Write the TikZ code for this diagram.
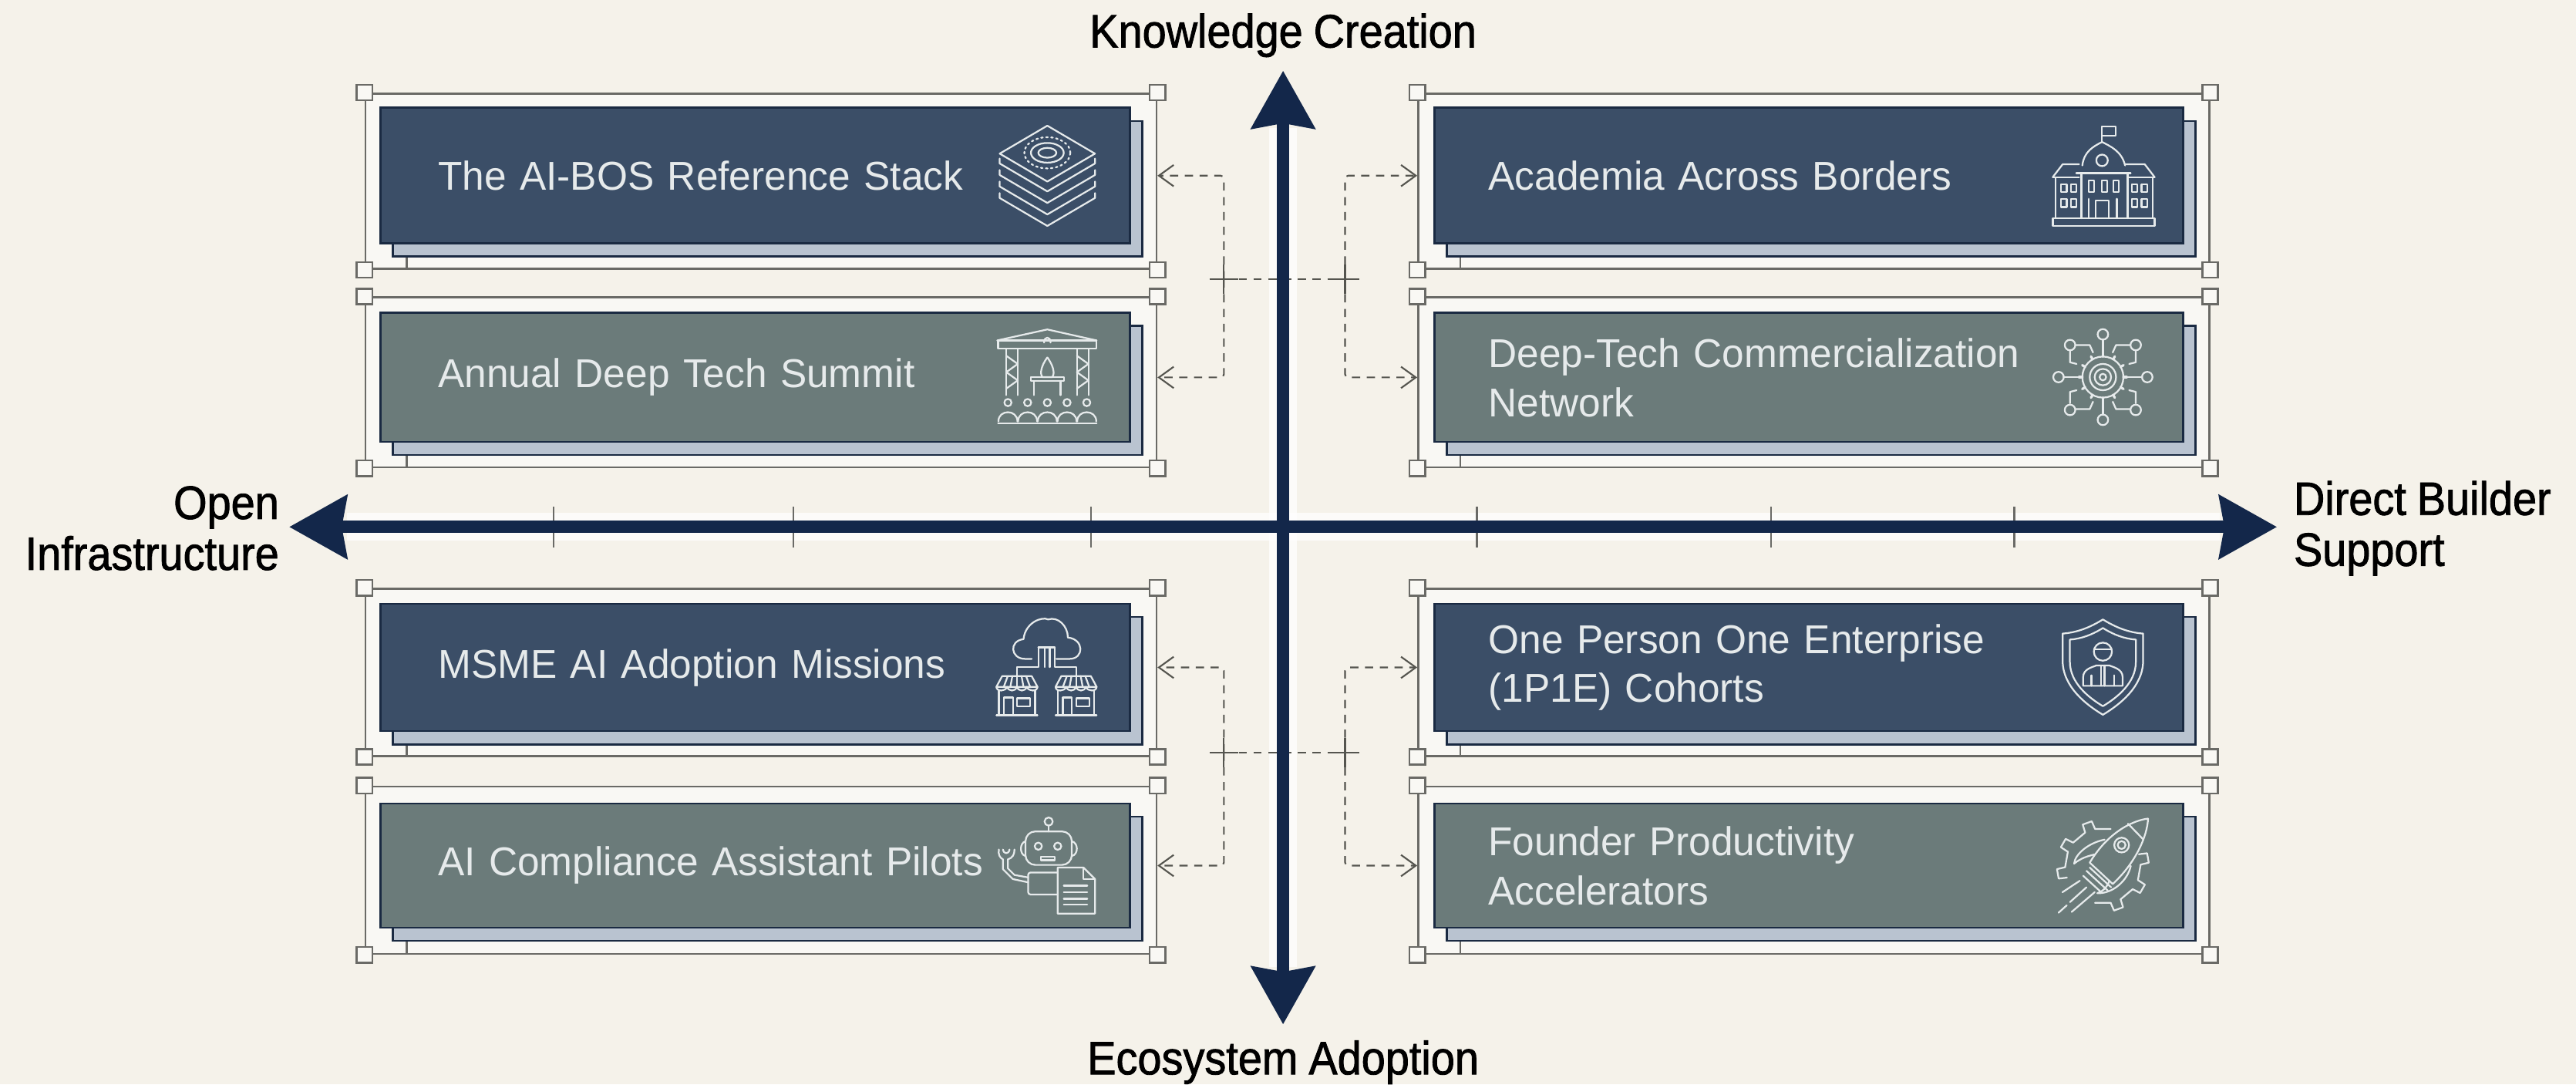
\documentclass[tikz,border=0pt]{standalone}
\usepackage{fontspec}
\setmainfont[WordSpace=0.7,FakeStretch=0.985]{Liberation Sans}
\newfontfamily\axisfont[FakeStretch=0.92,FakeBold=1.4,WordSpace=0.9]{Liberation Sans}
\usetikzlibrary{arrows.meta,shadows,shapes.misc}
\definecolor{paper}{HTML}{F5F2EA}
\definecolor{framefill}{HTML}{F9F8F4}
\definecolor{frameline}{HTML}{6A6A66}
\definecolor{navycard}{HTML}{3B4E67}
\definecolor{sagecard}{HTML}{6B7B7A}
\definecolor{cardline}{HTML}{1A2A42}
\definecolor{cardback}{HTML}{B9C3D0}
\definecolor{axisblue}{HTML}{13274A}
\definecolor{linkgray}{HTML}{55554F}
\definecolor{iconwhite}{HTML}{E6EAEB}
\begin{document}
\begin{tikzpicture}[x=1pt,y=-1pt]
 \tikzset{frame/.style={draw=frameline, fill=framefill, line width=1.2pt, inner sep=0pt, minimum width=481.5pt}}
 \tikzset{handle/.style={draw=frameline, fill=framefill, line width=1.2pt, inner sep=0pt, minimum size=9.5pt}}
 \tikzset{card/.style={draw=cardline, line width=1.3pt, text=iconwhite, inner xsep=35pt, inner ysep=0pt, text width=386pt, align=left, font=\fontsize{24.5}{30}\selectfont, copy shadow={shadow xshift=7.5pt, shadow yshift=-8pt, fill=cardback, draw=cardline}}}
 \tikzset{navy/.style={card, fill=navycard}}
 \tikzset{sage/.style={card, fill=sagecard}}
 \tikzset{rightside/.style={inner xsep=33pt, text width=390pt}}
 \tikzset{axislabel/.style={text=black, inner sep=0pt, font=\axisfont\fontsize{28.5}{31}\selectfont}}
 \tikzset{axisline/.style={draw=axisblue, line width=7.4pt, {Stealth[length=35pt,width=38pt,inset=3pt]}-{Stealth[length=35pt,width=38pt,inset=3pt]}}}
 \tikzset{halo/.style={draw=white, opacity=.75, line width=17pt, shorten >=35pt, shorten <=35pt}}
 \tikzset{tickline/.style={draw=frameline, line width=1.2pt}}
 \tikzset{link/.style={draw=linkgray, line width=1pt, dash pattern=on 5pt off 4pt, rounded corners=2pt, -{Straight Barb[length=9pt,width=13pt]}}}
 \tikzset{bus/.style={draw=linkgray, line width=1pt, dash pattern=on 5pt off 4pt}}
 \tikzset{joint/.style={draw=linkgray, line width=1pt, cross out, rotate=45, inner sep=0pt, minimum size=11.5pt}}
 \tikzset{iconline/.style={color=iconwhite, line width=1.05pt, line join=round, line cap=round}}
 \tikzset{stackicon/.pic={
  \draw (0,-30.5) -- (29,-13.5) -- (0,3.5) -- (-29,-13.5) -- cycle;
  \foreach \k in {6,13,20,27} \draw (-29,-13.5+\k-3) -- (-29,-13.5+\k) -- (0,3.5+\k) -- (29,-13.5+\k) -- (29,-13.5+\k-3);
  \draw (0,-14) ellipse (10pt and 6pt);
  \draw (0,-14) ellipse (5.5pt and 3pt);
  \draw[dotted] (0,-14) ellipse (14pt and 9.5pt);
 }}
 \tikzset{academyicon/.pic={
  \draw (-1,-20.6) -- (-1,-30) -- (7.4,-30) -- (7.4,-24.3) -- (-1,-24.3);
  \draw (-13,-6.3) .. controls (-12,-15) and (-6,-18) .. (-1,-20.6) .. controls (4,-18) and (11,-15) .. (13,-6.3);
  \draw (-1,-9.4) circle (3.5pt);
  \draw (-16.7,-1.6) -- (16.4,-1.6);
  \draw (-13.6,-1) -- (-13.6,25.8) (14.6,-1) -- (14.6,25.8);
  \draw (-31,.8) -- (-25,-7) -- (-15,-7) (31,.8) -- (25,-7) -- (13,-7);
  \draw (-31,.8) -- (-15,.8) (31,.8) -- (15,.8);
  \draw (-29.4,.8) -- (-29.4,25.8) (29.7,.8) -- (29.7,25.8);
  \draw (-31,25.8) rectangle (31,30.5);
  \foreach \x in {-26,-20,17,23} \foreach \y in {5,14} \draw (\x,\y) rectangle (\x+3.5,\y+5);
  \foreach \x in {-9,-1,6} \draw (\x,3) rectangle (\x+3,10);
  \draw (-5,25.8) -- (-5,15) -- (3,15) -- (3,25.8);
  \draw (-9,14) -- (-9,25.8) (8,14) -- (8,25.8);
 }}
 \tikzset{networkicon/.pic={
  \draw (0,0) circle (8pt) (0,0) circle (5pt) (0,0) circle (2pt) (0,0) circle (12.5pt);
  \foreach \a in {0,30,...,330} \draw[line width=1.5pt] (\a:12.5) -- (\a:14.5);
  \foreach \x/\y in {0/-26,0/26,-27/0,27/0,-20/-19.5,20/-19.5,-20/20,20/20} \draw (\x,\y) circle (3.2pt);
  \draw (0,-23) -- (0,-14) (0,23) -- (0,14) (-24,0) -- (-14,0) (24,0) -- (14,0);
  \foreach \sx/\sy in {-1/-1,1/-1,-1/1,1/1} {
   \draw (\sx*16.5,\sy*19.5) -- (\sx*8,\sy*19.5) -- (\sx*6,\sy*15);
   \draw (\sx*20,\sy*16) -- (\sx*20,\sy*9) -- (\sx*16,\sy*8);
  }
 }}
 \tikzset{summiticon/.pic={
  \draw (-30.5,-22.3) -- (0,-29) -- (30,-22.3) -- cycle;
  \draw (-30,-22.3) rectangle (30,-17.3);
  \draw (-2,-21) .. controls (-2,-25) and (2,-25) .. (2,-21);
  \foreach \x in {-25,18} {
   \draw (\x,-17) -- (\x,11) (\x+7,-17) -- (\x+7,11);
   \draw (\x,-13) -- (\x+7,-8) -- (\x,-3) -- (\x+7,2) -- (\x,7);
  }
  \draw (-10,0) rectangle (10,2.5);
  \draw (-8,2.5) -- (-8,11) (8,2.5) -- (8,11);
  \draw (0,-12) .. controls (-5,-5) and (-4,-1) .. (-3,0) -- (3,0) .. controls (4,-1) and (5,-5) .. (0,-12);
  \foreach \x in {-24,-12,0,12,24} {
   \draw (\x,15.5) circle (2.2pt);
   \draw (\x-5.8,27) .. controls (\x-5.8,19.5) and (\x+5.8,19.5) .. (\x+5.8,27);
  }
  \draw (-30,28.3) -- (30,28.3);
 }}
 \tikzset{msmeicon/.pic={
  \draw (-9,-5) -- (-13,-5) .. controls (-22,-5) and (-23,-16) .. (-14,-17) .. controls (-13,-27) and (-3,-31) .. (1,-29) .. controls (7,-31) and (13,-25) .. (13,-18) .. controls (23,-17) and (23,-5) .. (14,-5) -- (6,-5);
  \draw (-5,-12) -- (-5,0) -- (-18,0) -- (-18,5);
  \draw (5,-12) -- (5,0) -- (18,0) -- (18,5);
  \draw (-5,-12) -- (5,-12);
  \draw (-1,-12) -- (-1,0) (2,-12) -- (2,0);
  \foreach \x in {-18,18} {
   \draw (\x-9,5.5) -- (\x+9,5.5) -- (\x+12.5,12) -- (\x-12.5,12) -- cycle;
   \foreach \d in {-8,-4,0,4,8} \draw (\x+\d*.7,5.5) -- (\x+\d,12);
   \draw (\x-12.5,12) .. controls (\x-12.5,15) and (\x-7,15) .. (\x-6,12) .. controls (\x-5,15) and (\x-1,15) .. (\x,12) .. controls (\x+1,15) and (\x+5,15) .. (\x+6,12) .. controls (\x+7,15) and (\x+12.5,15) .. (\x+12.5,12);
   \draw (\x-11,14) -- (\x-11,29) (\x+11,14) -- (\x+11,29);
   \draw (\x-12.5,29.3) -- (\x+12.5,29.3);
   \draw (\x-8,29) -- (\x-8,18.5) -- (\x-2.5,18.5) -- (\x-2.5,29);
   \draw (\x,19) rectangle (\x+8,24);
  }
 }}
 \tikzset{shieldicon/.pic={
  \draw (0,-29) .. controls (-8,-24) and (-16,-21) .. (-24.5,-20.4) -- (-24.5,-4) .. controls (-24.5,12) and (-10,23) .. (0,29) .. controls (10,23) and (24.5,12) .. (24.5,-4) -- (24.5,-20.4) .. controls (16,-21) and (8,-24) .. cycle;
  \draw[scale=.82] (0,-29) .. controls (-8,-24) and (-16,-21) .. (-24.5,-20.4) -- (-24.5,-4) .. controls (-24.5,12) and (-10,23) .. (0,29) .. controls (10,23) and (24.5,12) .. (24.5,-4) -- (24.5,-20.4) .. controls (16,-21) and (8,-24) .. cycle;
  \draw (0,-9.4) circle (5.5pt);
  \draw (-5.5,-11) -- (5.5,-11);
  \draw (-12,11.4) -- (12,11.4) -- (12,6) .. controls (12,1) and (6,0) .. (4,-1) -- (-4,-1) .. controls (-6,0) and (-12,1) .. (-12,6) -- cycle;
  \draw (-1,-1) -- (-1,11.4) (1,-1) -- (1,11.4);
  \draw (-7,5) -- (-7,11.4) (7,5) -- (7,11.4);
 }}
 \tikzset{roboticon/.pic={
  \draw (.8,-27) circle (2.5pt);
  \draw (.8,-24.5) -- (.8,-21);
  \draw[rounded corners=6pt] (-13.3,-21) rectangle (14.9,-.6);
  \draw (-5.5,-12) circle (2.2pt) (6.3,-12) circle (2.2pt);
  \draw (-4,-5.5) rectangle (4.7,-3.5);
  \draw (-13.3,-15) .. controls (-17,-14) and (-17,-7) .. (-13.3,-6);
  \draw (14.9,-15) .. controls (19,-14) and (19,-7) .. (14.9,-6);
  \draw[rounded corners=1.5pt] (6.3,4) -- (-11.7,4) -- (-11.7,17.4) -- (6.3,17.4);
  \draw (6.3,1) -- (22,1) -- (29,8) -- (29,29) -- (6.3,29) -- cycle;
  \draw (22,1) -- (22,8) -- (29,8);
  \foreach \y in {12,16,20,23.5} \draw (10,\y) -- (24.3,\y);
  \draw (-11.7,7) -- (-20,5.5) -- (-24,1.5) -- (-24,-4);
  \draw (-11.7,10) -- (-21,8) -- (-27,2) -- (-27,-4);
  \draw (-24,-4) .. controls (-21,-5) and (-20,-7) .. (-20,-10);
  \draw (-27,-4) .. controls (-29,-5) and (-30,-7) .. (-29.5,-10);
  \draw (-27,-10) .. controls (-26.5,-7) and (-23.5,-7) .. (-23,-10);
 }}
 \tikzset{rocketicon/.pic={
  \foreach \a in {-10,30,70,170,210,250} \draw (\a-8:23) -- (\a-6:28) -- (\a+6:28) -- (\a+8:23) -- (\a+32:23);
  \draw (27.5,-28.8) .. controls (20,-28) and (4,-22) .. (-8,-2) -- (6,11) .. controls (20,-2) and (27,-18) .. (27.5,-28.8);
  \draw (15.3,-25.7) -- (24.7,-16);
  \draw (11.4,-12.7) circle (4.5pt) (11.4,-12.7) circle (2.4pt);
  \draw (1,-16) .. controls (-9,-14) and (-17,-7) .. (-17.5,-1.4) .. controls (-13,-5) and (-9,-6) .. (-5,-7);
  \draw (17,0) .. controls (15,9) and (6,17) .. (-3.4,16.6) .. controls (1,15) and (3,12) .. (4,9);
  \draw (-10,3) -- (3,15) (-8,1) -- (5,13) (-12,6) -- (-1,16);
  \draw (-14,9) -- (-24.6,16) (-10,13) -- (-20,22) (-5,16) -- (-19,28) (-22,24) -- (-27,28.5);
 }}

 \useasboundingbox (0,0) rectangle (1568,660);
 \fill[paper] (0,0) rectangle (1568,660);

 \node[frame, minimum height=106.7pt] (F1) at (463.2,110.3) {};
 \node[frame, minimum height=103.4pt] (F2) at (463.2,232.7) {};
 \node[frame, minimum height=101.8pt] (F3) at (463.2,409.2) {};
 \node[frame, minimum height=101.8pt] (F4) at (463.2,529.6) {};
 \node[frame, minimum height=106.7pt] (F5) at (1104,110.3) {};
 \node[frame, minimum height=103.4pt] (F6) at (1104,232.7) {};
 \node[frame, minimum height=101.8pt] (F7) at (1104,409.2) {};
 \node[frame, minimum height=101.8pt] (F8) at (1104,529.6) {};

 \node[navy, minimum height=82.5pt] (C1) at (459.7,106.9) {The AI-BOS Reference Stack};
 \node[sage, minimum height=78.5pt] (C2) at (459.7,229.7) {Annual Deep Tech Summit};
 \node[navy, minimum height=77.5pt] (C3) at (459.7,406.2) {MSME AI Adoption Missions};
 \node[sage, minimum height=75.6pt] (C4) at (459.7,526.8) {AI Compliance Assistant Pilots};
 \node[navy, rightside, minimum height=82.5pt] (C5) at (1101,106.9) {Academia Across Borders};
 \node[sage, rightside, minimum height=78.5pt] (C6) at (1101,229.7) {Deep-Tech Commercialization\\Network};
 \node[navy, rightside, minimum height=77.5pt] (C7) at (1101,406.2) {One Person One Enterprise\\(1P1E) Cohorts};
 \node[sage, rightside, minimum height=75.6pt] (C8) at (1101,526.8) {Founder Productivity\\Accelerators};

 \foreach \i in {1,...,8} {
  \draw[tickline] ([xshift=16.5pt,yshift=-8pt]C\i.south west) -- ([xshift=16.5pt]C\i.south west |- F\i.south);
  \foreach \c in {north west,north east,south west,south east} \node[handle] (H\i\c) at (F\i.\c) {};
 }

 \pic[iconline] (I1) at (637.5,107) {stackicon};
 \pic[iconline] (I2) at (637.5,229.5) {summiticon};
 \pic[iconline] (I3) at (637,406) {msmeicon};
 \pic[iconline] (I4) at (637.5,527) {roboticon};
 \pic[iconline] (I5) at (1280.5,107) {academyicon};
 \pic[iconline] (I6) at (1280,229.5) {networkicon};
 \pic[iconline] (I7) at (1280,406) {shieldicon};
 \pic[iconline] (I8) at (1280,527) {rocketicon};

 \coordinate (W) at (176,320.7);
 \coordinate (E) at (1386,320.7);
 \coordinate (N) at (781,43);
 \coordinate (S) at (781,623.5);
 \draw[halo] (W) -- (E);
 \draw[halo] (N) -- (S);

 \node[joint] (J1) at (745,170) {};
 \node[joint] (J2) at (818.7,170) {};
 \node[joint] (J3) at (745,458) {};
 \node[joint] (J4) at (818.7,458) {};
 \draw[bus] (J1.center) -- (J2.center);
 \draw[bus] (J3.center) -- (J4.center);
 \draw[link] (J1.center) |- (C1.east -| F1.east);
 \draw[link] (J1.center) |- (C2.east -| F2.east);
 \draw[link] (J3.center) |- (C3.east -| F3.east);
 \draw[link] (J3.center) |- (C4.east -| F4.east);
 \draw[link] (J2.center) |- (C5.east -| F5.west);
 \draw[link] (J2.center) |- (C6.east -| F6.west);
 \draw[link] (J4.center) |- (C7.east -| F7.west);
 \draw[link] (J4.center) |- (C8.east -| F8.west);

 \foreach \x in {337,483,664,899,1078,1226} \draw[tickline] (\x,308.5) -- (\x,333);
 \draw[axisline] (W) -- (E);
 \draw[axisline] (N) -- (S);

 \node[axislabel] (LN) at (781,21.5) {Knowledge Creation};
 \node[axislabel] (LS) at (781,646.5) {Ecosystem Adoption};
 \node[axislabel, anchor=east, align=right] (LW) at (170,321.5) {Open\\Infrastructure};
 \node[axislabel, anchor=west, align=left] (LE) at (1396,321.5) {Direct Builder\\Support};
\end{tikzpicture}
\end{document}
